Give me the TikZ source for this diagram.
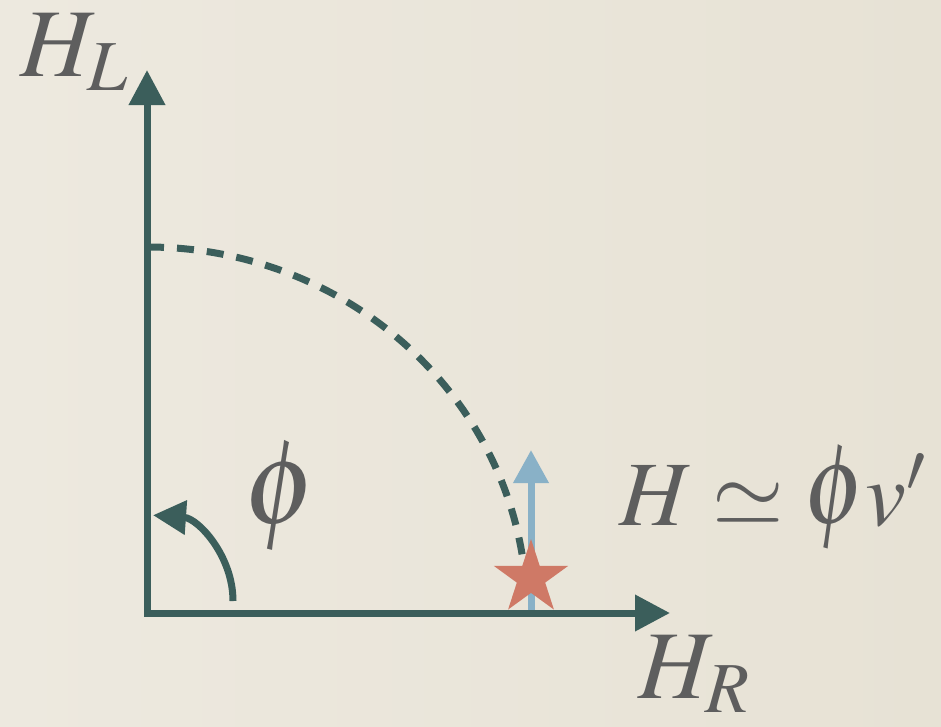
\documentclass[tikz,border=0pt]{standalone}
\usepackage{mathptmx}
\usepackage{graphicx}
\usetikzlibrary{arrows.meta,shapes.geometric}
\definecolor{bgl}{HTML}{EDE9DF}
\definecolor{bgr}{HTML}{E7E2D5}
\definecolor{axiscol}{HTML}{3B5E5B}
\definecolor{blueup}{HTML}{89B1C7}
\definecolor{starred}{HTML}{CF7966}
\definecolor{txt}{HTML}{5E5E5E}
\newcommand{\myphi}{\raisebox{2pt}{\scalebox{1.18}[1.25]{$\phi$}}}
\newcommand{\myphis}{\raisebox{2pt}{\scalebox{1.05}[1.25]{$\phi$}}}
\tikzset{
  axisline/.style={draw=axiscol,line width=7pt,line join=miter},
  lab/.style={text=txt,font=\fontsize{97}{97}\selectfont,inner sep=0pt,outer sep=0pt},
  labs/.style={text=txt,font=\fontsize{92}{92}\selectfont,inner sep=0pt,outer sep=0pt}
}
\begin{document}
\begin{tikzpicture}[x=1pt,y=-1pt]
\shade[left color=bgl,right color=bgr] (0,0) rectangle (941,726);
\useasboundingbox (0,0) rectangle (941,726);
\coordinate (O) at (147,613);
\coordinate (Ytip) at (147,70);
\coordinate (Xtip) at (670,613);
\draw[axisline,{Triangle[length=35pt,width=35pt]}-{Triangle[length=35pt,width=35pt]}] (Ytip) -- (O) -- (Xtip);
% dashed arc
\coordinate (arcstart) at (147,247);
\draw[axisline,dash pattern=on 17pt off 13pt] (arcstart) arc[start angle=-90,end angle=-5,x radius=380,y radius=366];
% phi angle arrow
\coordinate (phistart) at (233,601);
\draw[axisline,-{Triangle[length=33pt,width=33pt]}] (phistart) arc[start angle=0,end angle=-86,radius=86];
% blue arrow
\coordinate (bbot) at (531,610);
\coordinate (btop) at (531,450);
\draw[draw=blueup,line width=7pt,-{Triangle[length=33pt,width=34pt]}] (bbot) -- (btop);
% star
\node[star,star points=5,star point ratio=2.618,fill=starred,minimum size=78pt,inner sep=0pt,outer sep=0pt] (st) at (531,578) {};
% labels
\node[lab,anchor=base west] (hl) at (20,76) {$H_L$};
\node[lab,anchor=base west] (hr) at (638,698) {$H_R$};
\node[lab,anchor=base west] (phi) at (244,525) {\myphi};
\node[labs,anchor=base west] (heq) at (619,525) {$H \simeq \myphis v'$};
\end{tikzpicture}
\end{document}
